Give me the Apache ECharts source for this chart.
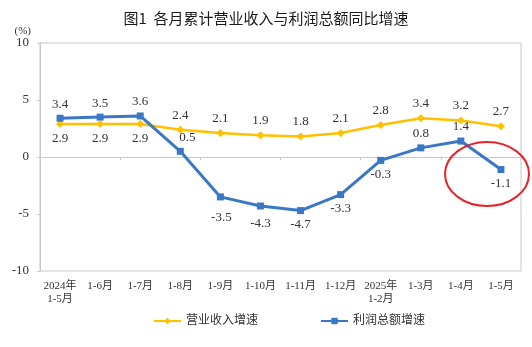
<!DOCTYPE html>
<html>
<head>
<meta charset="utf-8">
<script src="https://cdn.jsdelivr.net/npm/echarts@6/dist/echarts.min.js"></script>
<style>html,body{margin:0;padding:0;background:#fff;}#c{width:532px;height:347px;}</style>
</head>
<body>
<div id="c"></div>
<script>
const categories = ['2024年\n1-5月','1-6月','1-7月','1-8月','1-9月','1-10月','1-11月','1-12月','2025年\n1-2月','1-3月','1-4月','1-5月'];
const revenueGrowth = [2.9, 2.9, 2.9, 2.4, 2.1, 1.9, 1.8, 2.1, 2.8, 3.4, 3.2, 2.7];
const profitGrowth = [3.4, 3.5, 3.6, 0.5, -3.5, -4.3, -4.7, -3.3, -0.3, 0.8, 1.4, -1.1];
const yTicks = [-10, -5, 0, 5, 10];
const seriesNames = ['营业收入增速', '利润总额增速'];

const serif = "'Liberation Serif','Times New Roman','Noto Sans CJK SC',serif";
const labelStyle = {fontFamily: serif, fontSize: 13, color: '#333'};

const revenueData = revenueGrowth.map((v, i) => ({
  value: v,
  label: Object.assign({show: true, position: i < 3 ? 'bottom' : 'top', distance: 4}, labelStyle)
}));
const profitData = profitGrowth.map((v, i) => {
  const top = i < 4 || v >= 0.8;
  let offset = [0, 0];
  if (i === 3) offset = [7, 0];
  if (i === 4) offset = [1, 7];
  if (i === 5) offset = [0, 4];
  return {
    value: v,
    label: Object.assign({show: true, position: top ? 'top' : 'bottom', distance: 4, offset: offset}, labelStyle)
  };
});

const chart = echarts.init(document.getElementById('c'), null, {renderer: 'canvas'});
chart.setOption({
  animation: false,
  backgroundColor: '#fff',
  title: {
    text: '图1  各月累计营业收入与利润总额同比增速',
    left: 'center',
    top: 6,
    textStyle: {fontFamily: "'Noto Sans CJK SC',sans-serif", fontSize: 15, fontWeight: 'normal', color: '#1a1a1a'}
  },
  legend: {
    data: seriesNames,
    left: 148,
    top: 310,
    itemWidth: 27,
    itemHeight: 8,
    itemGap: 62,
    textStyle: {fontFamily: serif, fontSize: 12, color: '#333'}
  },
  grid: {
    left: 40, right: 11, top: 43, bottom: 76,
    show: true, borderColor: '#C8C8C8', borderWidth: 1
  },
  xAxis: [
    {
      type: 'category', data: categories, position: 'bottom', boundaryGap: true,
      axisLine: {onZero: true, lineStyle: {color: '#C8C8C8', width: 1}},
      axisTick: {show: true, length: 3, lineStyle: {color: '#C8C8C8'}},
      axisLabel: {show: false}
    },
    {
      type: 'category', data: categories, position: 'bottom', boundaryGap: true,
      axisLine: {show: false, onZero: false},
      axisTick: {show: false},
      axisLabel: {interval: 0, margin: 9, fontFamily: serif, fontSize: 11, lineHeight: 13, color: '#333'}
    }
  ],
  yAxis: {
    type: 'value', min: yTicks[0], max: yTicks[yTicks.length - 1], interval: 5,
    name: '(%)', nameLocation: 'end', nameGap: 12,
    nameTextStyle: {fontFamily: serif, fontSize: 11, color: '#333', align: 'right', verticalAlign: 'middle', padding: [0, 9, 0, 0]},
    axisLine: {show: true, lineStyle: {color: '#C8C8C8'}},
    axisTick: {show: true, length: 3, lineStyle: {color: '#C8C8C8'}},
    splitLine: {show: false},
    axisLabel: {margin: 11, fontFamily: serif, fontSize: 13, color: '#333'}
  },
  series: [
    {
      name: seriesNames[0], type: 'line', xAxisIndex: 0, data: revenueData,
      symbol: 'diamond', symbolSize: 8, showAllSymbol: true,
      itemStyle: {color: '#FFC000'},
      lineStyle: {color: '#FFC000', width: 2.5},
      z: 3
    },
    {
      name: seriesNames[1], type: 'line', xAxisIndex: 0, data: profitData,
      symbol: 'rect', symbolSize: 7, showAllSymbol: true,
      itemStyle: {color: '#3A78C6'},
      lineStyle: {color: '#3A78C6', width: 3},
      z: 4
    }
  ],
  graphic: [
    {
      type: 'ellipse',
      shape: {cx: 487, cy: 174, rx: 42, ry: 32},
      style: {fill: 'none', stroke: '#E3262B', lineWidth: 2},
      z: 10
    }
  ]
});
</script>
</body>
</html>
